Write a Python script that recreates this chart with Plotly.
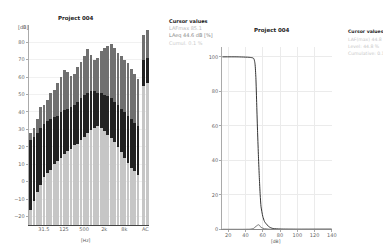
import plotly.graph_objects as go

# ---------------- data ----------------
bands = ["12.5", "16", "20", "25", "31.5", "40", "50", "63", "80", "100", "125",
         "160", "200", "250", "315", "400", "500", "630", "800", "1k", "1.25k",
         "1.6k", "2k", "2.5k", "3.15k", "4k", "5k", "6.3k", "8k", "10k", "12.5k",
         "16k", "20k"]
max_db = [28, 31, 36, 43, 44, 47, 51, 53, 57, 60, 64, 63, 61, 62, 66, 69, 72,
          76, 73, 70, 71, 75, 77, 78, 79, 77, 74, 72, 70, 68, 65, 62, 59]
leq_db = [24, 26, 28, 31, 33, 35, 36, 37, 38, 40, 41, 42, 43, 44, 46, 48, 50,
          51, 52, 52, 51, 51, 50, 49, 48, 46, 44, 42, 40, 38, 36, 34, 32]
min_db = [-16, -11, -6, -2, 3, 5, 7, 10, 12, 14, 16, 18, 19, 21, 22, 24, 26,
          28, 30, 31, 32, 31, 29, 27, 25, 23, 20, 17, 14, 11, 8, 6, 4]
weightings = ["A", "C"]
max_ac = [84, 87]
leq_ac = [70, 71]
min_ac = [55, 57]
tick_bands = ["31.5", "125", "500", "2k", "8k"]
ac_label = "AC"
y_ticks_left = [-20, -10, 0, 10, 20, 30, 40, 50, 60, 70, 80]

levels = [13, 30, 45, 49, 50, 51, 52, 53, 54, 55, 56, 57, 58, 60, 62, 65, 68,
          72, 80, 100, 140]
cumulative = [100, 100, 99.7, 99.3, 98.5, 96, 88, 72, 56, 42, 30, 20, 13, 7.5,
              4.5, 2.5, 1.2, 0.4, 0.1, 0, 0]
dist_levels = [13, 40, 46, 49, 51, 53, 55, 56, 57, 59, 62, 66, 70, 140]
distribution = [0, 0, 0.1, 0.4, 1.2, 2.0, 2.6, 2.4, 1.6, 0.8, 0.3, 0.1, 0, 0]

title_text = "Project 004"
cursor_left = ["<b>Cursor values</b>", "LAFmax 85.1", "LAeq 44.6 dB [%]", "Cumul. 0.1 %"]
cursor_right = ["<b>Cursor values</b>", "LAF(max) 44.8", "Level: 44.8 %", "Cumulative: 0.1"]

# ---------------- layout helpers ----------------
W, H = 391, 244
def fx(x):
    return x / W
def fy(y):
    return 1 - y / H

BASE = -25
FONT = "DejaVu Sans"

fig = go.Figure()

xb = list(range(len(bands)))
xac = [len(bands) + 0.7, len(bands) + 1.8]

def add_layer(vals, vals_ac, color):
    fig.add_trace(go.Bar(
        x=xb + xac,
        y=[v - BASE for v in vals + vals_ac],
        base=BASE, width=0.82,
        marker=dict(color=color, line=dict(width=0)),
        xaxis="x", yaxis="y", showlegend=False, hoverinfo="skip"))

add_layer(max_db, max_ac, "#707070")
add_layer(leq_db, leq_ac, "#222222")
add_layer(min_db, min_ac, "#c6c6c6")

fig.add_trace(go.Scatter(x=dist_levels, y=distribution, mode="lines",
                         line=dict(color="#666", width=0.9, shape="spline"),
                         xaxis="x2", yaxis="y2", showlegend=False, hoverinfo="skip"))
fig.add_trace(go.Scatter(x=levels, y=cumulative, mode="lines",
                         line=dict(color="#333", width=1, shape="spline", smoothing=0.6),
                         xaxis="x2", yaxis="y2", showlegend=False, hoverinfo="skip"))

tickvals = [bands.index(b) for b in tick_bands] + [sum(xac) / 2]
ticktext = tick_bands + [ac_label]

tickfont = dict(family=FONT, size=5, color="#666")
fig.update_layout(
    width=W, height=H, margin=dict(l=0, r=0, t=0, b=0),
    paper_bgcolor="white", plot_bgcolor="white",
    barmode="overlay", bargap=0,
    xaxis=dict(domain=[fx(21), fx(143)], range=[-0.5, len(bands) + 2.4],
               tickvals=tickvals, ticktext=ticktext, tickfont=tickfont,
               ticklabelstandoff=-1,
               showgrid=False, showline=True, linecolor="#444", linewidth=1,
               ticks="", zeroline=False, anchor="y"),
    yaxis=dict(domain=[fy(220), fy(17)], range=[BASE, 90],
               tickvals=y_ticks_left, tickfont=tickfont,
               showgrid=True, gridcolor="#f1f1f1", gridwidth=0.5,
               showline=True, linecolor="#aaa", linewidth=1,
               ticks="outside", ticklen=2, tickcolor="#aaa",
               zeroline=False, anchor="x"),
    xaxis2=dict(domain=[fx(217), fx(328)], range=[13, 140],
                tickvals=[20, 40, 60, 80, 100, 120, 140], tickfont=tickfont,
                ticklabelstandoff=-1,
                showgrid=True, gridcolor="#ebebeb", gridwidth=0.5,
                showline=True, linecolor="#888", linewidth=1,
                ticks="outside", ticklen=2, tickcolor="#aaa",
                zeroline=False, anchor="y2"),
    yaxis2=dict(domain=[fy(224), fy(39)], range=[0, 106],
                tickvals=[0, 20, 40, 60, 80, 100], tickfont=tickfont,
                showgrid=True, gridcolor="#ebebeb", gridwidth=0.5,
                showline=True, linecolor="#aaa", linewidth=1,
                ticks="outside", ticklen=2, tickcolor="#aaa",
                zeroline=False, anchor="x2"),
)

ann = []
def text(x, y, s, size=5, color="#555", xanchor="center", yanchor="middle"):
    ann.append(dict(x=fx(x), y=fy(y), xref="paper", yref="paper", text=s,
                    showarrow=False, xanchor=xanchor, yanchor=yanchor,
                    borderpad=0,
                    font=dict(family=FONT, size=size, color=color)))

text(69, 11, "<b>" + title_text + "</b>", size=5.5, color="#222")
text(267, 23, "<b>" + title_text + "</b>", size=5.5, color="#222")
text(16, 19, "[dB]")
text(79, 239, "[Hz]", size=4.5, yanchor="bottom")
text(271, 239.5, "[dB]", size=4.5, yanchor="bottom")

colors = ["#222", "#bbb", "#888", "#ccc"]
for i, (s, c) in enumerate(zip(cursor_left, colors)):
    text(162, 13 + i * 7.5, s, size=5, color=c, xanchor="left")
for i, (s, c) in enumerate(zip(cursor_right, colors)):
    text(343, 24 + i * 7.5, s, size=4.6, color=c if i == 0 else "#c8c8c8", xanchor="left")

fig.update_layout(annotations=ann)
fig.write_html("out.html")
